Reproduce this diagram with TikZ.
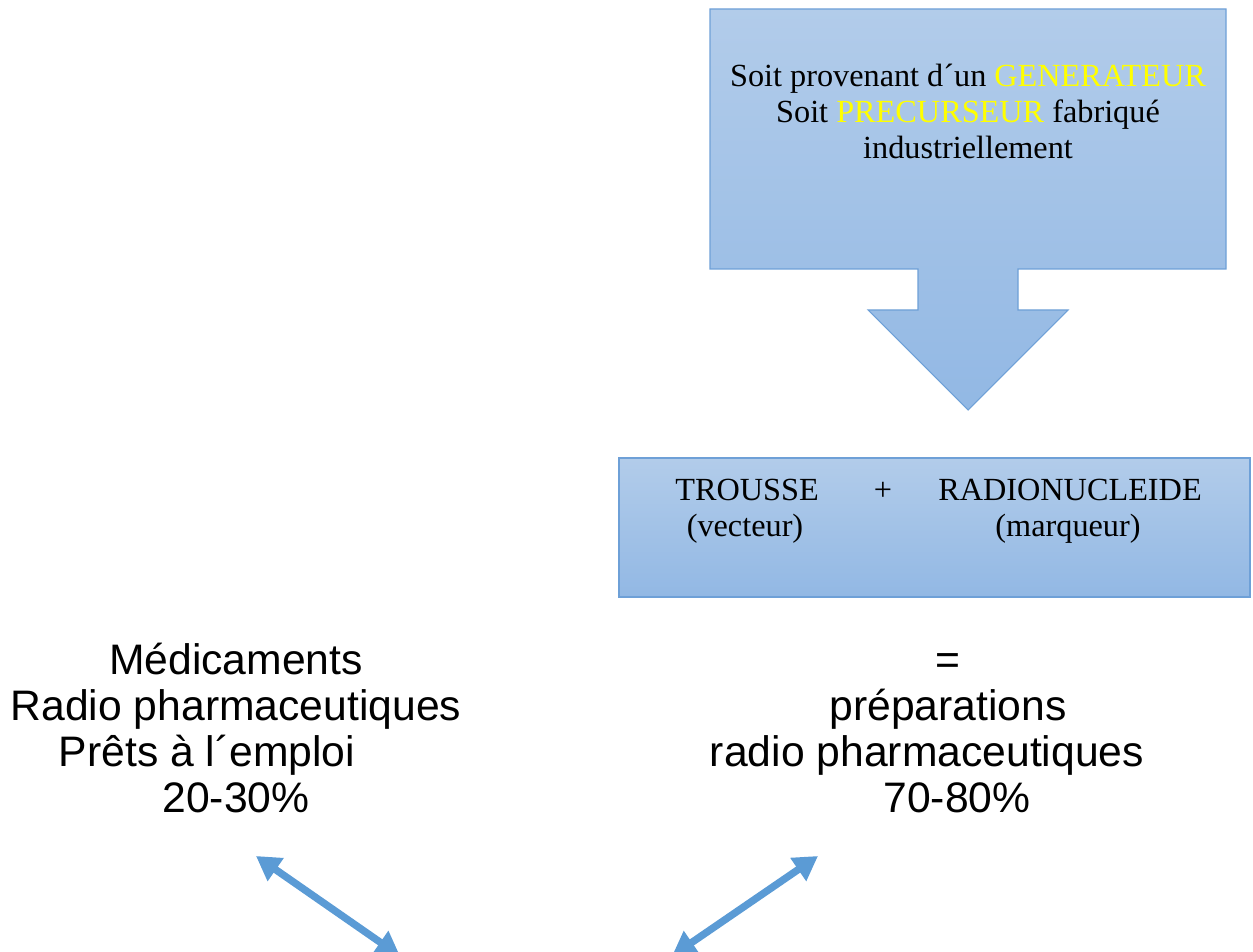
\documentclass[tikz,border=0pt]{standalone}
\usepackage{fontspec}
\setmainfont{Liberation Sans}
\newfontfamily\serifff{Liberation Serif}
\usetikzlibrary{arrows.meta}
\definecolor{boxtop}{RGB}{178,204,234}
\definecolor{boxbot}{RGB}{146,184,228}
\definecolor{boxedge}{RGB}{110,160,215}
\definecolor{arrowblue}{RGB}{91,155,213}
\definecolor{hilite}{RGB}{255,255,0}
\tikzset{
  serifline/.style={font=\serifff\fontsize{24.2}{27}\selectfont, inner sep=0pt, anchor=base},
  sansline/.style={font=\fontsize{32}{35}\selectfont, inner sep=0pt, anchor=base},
  dblarrow/.style={draw=arrowblue, line width=5.5pt, {Triangle[length=18pt,width=20pt]}-{Triangle[length=18pt,width=20pt]}},
}
\begin{document}
\begin{tikzpicture}[x=0.75pt,y=-0.75pt]
\useasboundingbox (0,0) rectangle (1253,952);
\clip (0,0) rectangle (1253,952);
% callout box with down arrow
\path[draw=boxedge, line width=0.8pt, top color=boxtop, bottom color=boxbot]
  (710,9) -- (1226,9) -- (1226,269) -- (1018,269) -- (1018,310) -- (1068,310)
  -- (968,410) -- (868,310) -- (918,310) -- (918,269) -- (710,269) -- cycle;
\node[serifline] (gen) at (968,87) {Soit provenant d´un \textcolor{hilite}{GENERATEUR}};
\node[serifline] (prec) at (968,123) {Soit \textcolor{hilite}{PRECURSEUR} fabriqué};
\node[serifline] (indus) at (968,159) {industriellement};
% trousse box
\node[draw=boxedge, line width=0.8pt, top color=boxtop, bottom color=boxbot,
      minimum width=631*0.75pt, minimum height=139*0.75pt, inner sep=0pt] (kit) at (934.5,527.5) {};
\node[serifline] (trousse) at (747,500) {TROUSSE};
\node[serifline] (vect) at (745,536) {(vecteur)};
\node[serifline] (plus) at (883,500) {+};
\node[serifline] (radio) at (1070,500) {RADIONUCLEIDE};
\node[serifline] (marq) at (1068,536) {(marqueur)};
% left text
\node[sansline] (l1) at (236,674) {Médicaments};
\node[sansline] (l2) at (236,720) {Radio pharmaceutiques};
\node[sansline] (l3) at (207,766) {Prêts à l´emploi};
\node[sansline] (l4) at (236,812) {20-30\%};
% right text
\node[sansline] (r1) at (948,674) {=};
\node[sansline] (r2) at (948,720) {préparations};
\node[sansline] (r3) at (927,766) {radio pharmaceutiques};
\node[sansline] (r4) at (957,812) {70-80\%};
% double arrows
\coordinate (la) at (256,856);
\coordinate (lb) at (400,956);
\coordinate (ra) at (818,856);
\coordinate (rb) at (672,956);
\draw[dblarrow] (la) -- (lb);
\draw[dblarrow] (ra) -- (rb);
\end{tikzpicture}
\end{document}
